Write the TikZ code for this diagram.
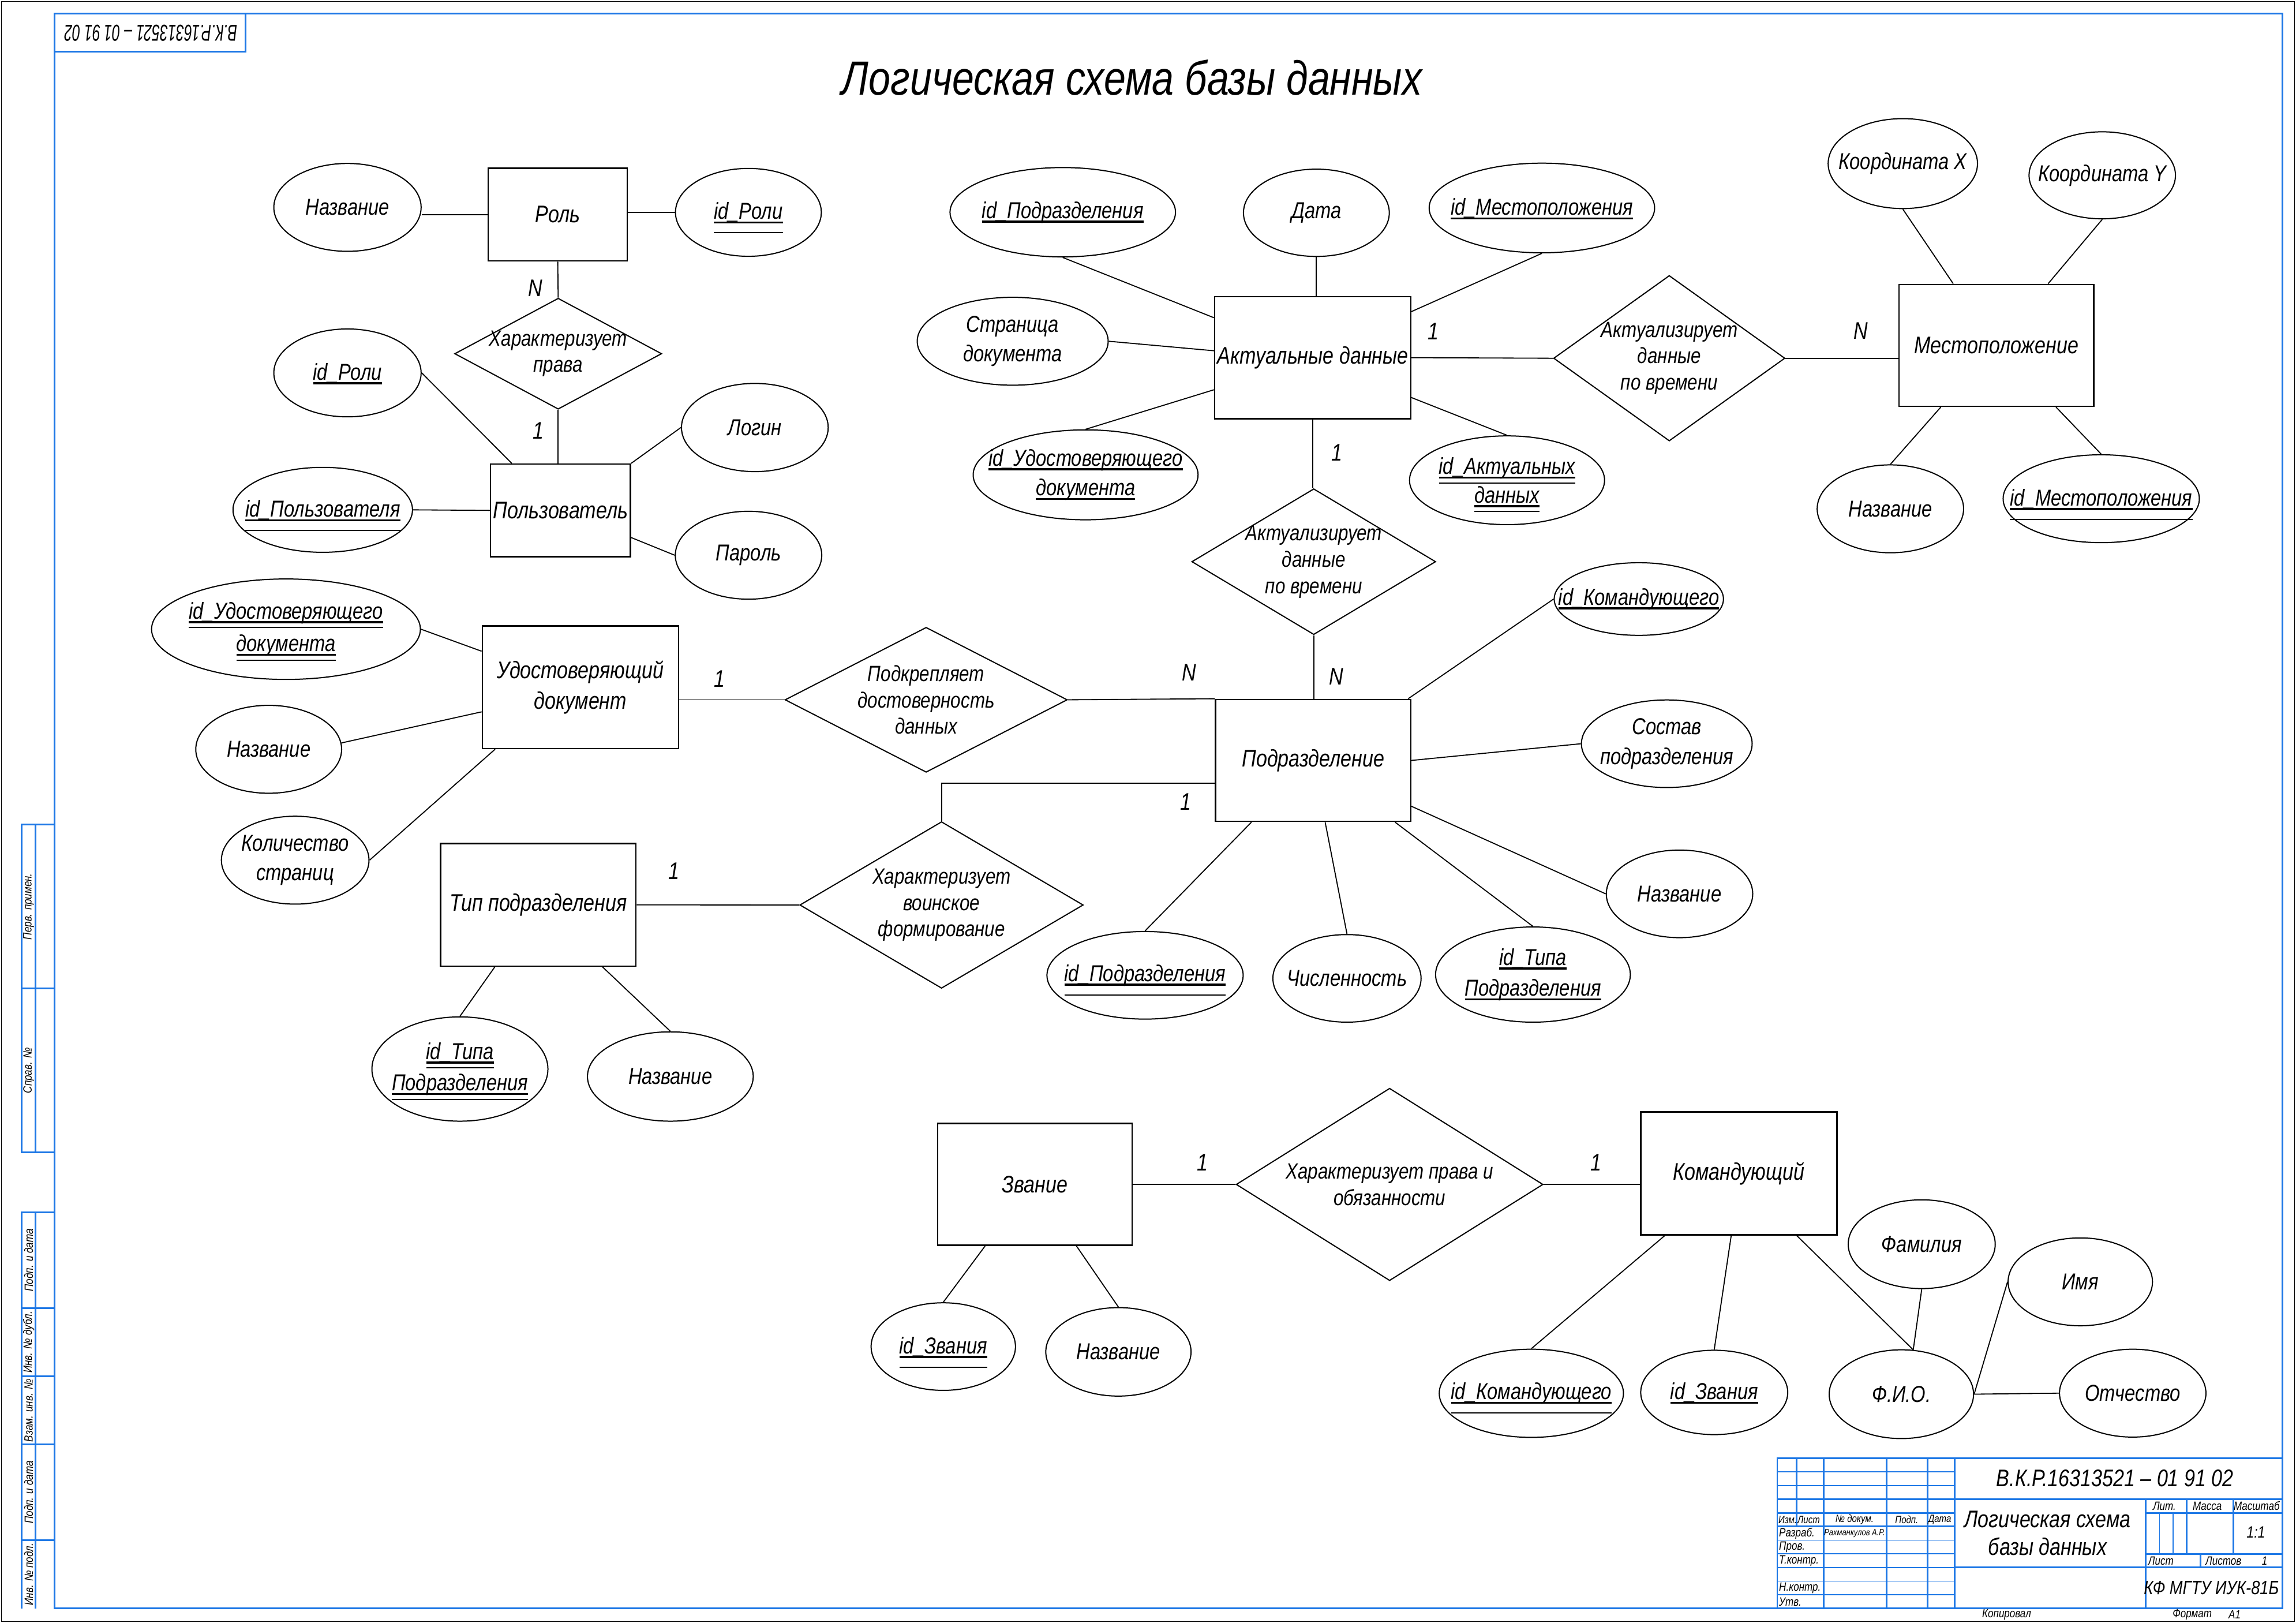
\documentclass[tikz,border=0pt]{standalone}
\usepackage{fontspec}
\usepackage{graphicx}
\usetikzlibrary{shapes.geometric}
\newfontfamily\gostfam{Liberation Sans}[FakeStretch=0.82]
\newcommand\gf[2]{\gostfam\itshape\fontsize{#1}{#2}\selectfont}
\newsavebox\ulbox
\newcommand\kul[1]{\sbox\ulbox{#1}\leavevmode\rlap{\smash{\vrule width\wd\ulbox height -2.5pt depth 4.5pt}}\usebox\ulbox}
\newcommand\kdul[2][9pt]{\sbox\ulbox{#2}\leavevmode\rlap{\smash{\vrule width\wd\ulbox height -2.5pt depth 4.5pt}}\rlap{\smash{\vrule width\wd\ulbox height \dimexpr-4.5pt-#1\relax depth \dimexpr5.7pt+#1\relax}}\usebox\ulbox}
\definecolor{frameblue}{RGB}{30,120,230}
\newcommand\attnode[6][]{\node[attshape={#4}{#5}] (#2) at (#3) {}; \node[atxt,#1] (#2t) at (#2) {#6};}
\newcommand\relnode[6][]{\node[relshape={#4}{#5}] (#2) at (#3) {}; \node[rtxt,#1] (#2t) at (#2) {#6};}
\begin{document}
\begin{tikzpicture}[x=0.53635mm, y=-0.53635mm,
  ent/.style 2 args={draw, rectangle, line width=1.5pt, minimum width={#1*0.53635mm}, minimum height={#2*0.53635mm}, inner sep=0pt, align=center, font={\gf{25}{32}}},
  attshape/.style 2 args={draw, ellipse, line width=1.2pt, minimum width={2*#1*0.53635mm}, minimum height={2*#2*0.53635mm}, inner sep=0pt},
  relshape/.style 2 args={draw, diamond, line width=1.2pt, minimum width={2*#1*0.53635mm}, minimum height={2*#2*0.53635mm}, inner sep=0pt},
  atxt/.style={inner sep=0pt, align=center, font={\gf{24}{31}}},
  rtxt/.style={inner sep=0pt, align=center, font={\gf{23}{27.5}}},
  card/.style={inner sep=0pt, font={\gf{25}{30}}},
  conn/.style={line width=1.1pt},
  bthick/.style={draw=frameblue, line width=1.7pt},
  bthin/.style={draw=frameblue, line width=0.9pt},
  tbs/.style={inner sep=0pt, font={\gf{11}{13}}},
  tbm/.style={inner sep=0pt, font={\gf{12.5}{15}}},
]
\useasboundingbox (0mm,0mm) rectangle (841mm,-594.34mm);

% ---------------- frame and title block (mm) ----------------
\begin{scope}[x=1mm, y=-1mm]
\draw[line width=0.8pt] (0.5,0.5) rectangle (840.5,593.8);
\draw[bthick] (20,5) rectangle (836,589);
% top-left stamp
\draw[bthick] (20,19) -| (90,5);
\node[rotate=180, inner sep=0pt, font={\gf{24}{28}}] (stamp) at (55.3,12.2) {\scalebox{0.76}[1]{В.К.Р.16313521 – 01 91 02}};
% left strip
\draw[bthick] (20,302) -| (8,422) -- (20,422);
\draw[bthick] (13,302) -- (13,422);
\draw[bthick] (8,362) -- (20,362);
\draw[bthick] (20,444) -| (8,589);
\draw[bthick] (13,444) -- (13,589);
\foreach \yy in {479,504,529,564} \draw[bthick] (8,\yy) -- (20,\yy);
\node[tbm, rotate=90] (s1) at (10.5,332) {Перв. примен.};
\node[tbm, rotate=90] (s2) at (10.5,392) {Справ. №};
\node[tbm, rotate=90] (s3) at (10.5,461.5) {Подп. и дата};
\node[tbm, rotate=90] (s4) at (10.5,491.5) {Инв. № дубл.};
\node[tbm, rotate=90] (s5) at (10.5,516.5) {Взам. инв. №};
\node[tbm, rotate=90] (s6) at (10.5,546.5) {Подп. и дата};
\node[tbm, rotate=90] (s7) at (10.5,576.5) {Инв. № подл.};
% title block
\draw[bthick] (651,589) |- (836,534);
\draw[bthick] (658,534) -- (658,559);
\foreach \xx in {668,691,706,716} \draw[bthick] (\xx,534) -- (\xx,589);
\foreach \yy in {539,544,564,569,574,579,584} \draw[bthin] (651,\yy) -- (716,\yy);
\draw[bthick] (651,549) -- (836,549);
\draw[bthick] (651,554) -- (716,554);
\draw[bthick] (651,559) -- (716,559);
\draw[bthick] (716,574) -- (836,574);
\draw[bthick] (786,549) -- (786,589);
\draw[bthick] (786,554) -- (836,554);
\draw[bthick] (786,569) -- (836,569);
\draw[bthick] (801,549) -- (801,569);
\draw[bthick] (818,549) -- (818,569);
\draw[bthin] (791,554) -- (791,569);
\draw[bthin] (796,554) -- (796,569);
\draw[bthick] (806,569) -- (806,574);
\node[tbs] (h1) at (654.8,556.5) {Изм.};
\node[tbs] (h2) at (662.5,556.5) {Лист};
\node[tbs] (h3) at (679.3,556.5) {№ докум.};
\node[tbs] (h4) at (698.4,556.5) {Подп.};
\node[tbs] (h5) at (710.5,556.5) {Дата};
\node[tbm, anchor=west] (l1) at (651.6,561.6) {Разраб.};
\node[inner sep=0pt, font={\gf{9.5}{11}}] (l1n) at (679.3,561.6) {Рахманкулов А.Р.};
\node[tbm, anchor=west] (l2) at (651.6,566.6) {Пров.};
\node[tbm, anchor=west] (l3) at (651.6,571.6) {Т.контр.};
\node[tbm, anchor=west] (l4) at (651.6,581.6) {Н.контр.};
\node[tbm, anchor=west] (l5) at (651.6,586.6) {Утв.};
\node[inner sep=0pt, font={\gf{25}{30}}] (docnum) at (774.7,541.4) {В.К.Р.16313521 – 01 91 02};
\node[inner sep=0pt, align=center, font={\gf{25}{29}}] (doctitle) at (750,561.5) {Логическая схема\\базы данных};
\node[tbm] (lit) at (792.8,551.5) {Лит.};
\node[tbm] (mass) at (808.5,551.5) {Масса};
\node[tbm] (scale) at (826.6,551.5) {Масштаб};
\node[inner sep=0pt, font={\gf{17}{20}}] (scv) at (826.3,561.2) {1:1};
\node[tbm] (list) at (791.5,571.6) {Лист};
\node[tbm] (lists) at (814.4,571.6) {Листов};
\node[tbm] (listsv) at (829.5,571.6) {1};
\node[inner sep=0pt, font={\gf{20}{24}}] (org) at (810,581.4) {КФ МГТУ ИУК-81Б};
\node[tbm] (kop) at (735,591.3) {Копировал};
\node[tbm] (fmt) at (803,591.3) {Формат};
\node[tbm] (fmtv) at (818.5,591.3) {А1};
\end{scope}

% ---------------- title ----------------
\node[inner sep=0pt, font={\gf{50}{60}}] (title) at (773,53) {Логическая схема базы данных};

% ---------------- entities ----------------
\node[ent={94.9}{63.3}] (rol) at (380.9,146.5) {Роль};
\node[ent={95.5}{63.3}] (usr) at (382.8,348.5) {Пользователь};
\node[ent={134}{83.7}] (udo) at (396.4,469.2) {Удостоверяющий\\документ};
\node[ent={133.5}{83.7}] (tip) at (367.6,617.8) {Тип подразделения};
\node[ent={133.9}{83.3}] (akt) at (896.5,244.2) {Актуальные данные};
\node[ent={133.1}{83.2}] (mes) at (1363.4,235.8) {Местоположение};
\node[ent={133.3}{83.3}] (pod) at (896.8,519.2) {Подразделение};
\node[ent={132.9}{83.2}] (zva) at (706.8,808.7) {Звание};
\node[ent={134}{83.9}] (kom) at (1187.5,801.2) {Командующий};

% ---------------- relationships ----------------
\relnode{r1}{381.2,241.5}{70.7}{37.9}{Характеризует\\права}
\relnode{r2}{1140,244.6}{79}{56.5}{Актуализирует\\данные\\по времени}
\relnode{r3}{897.2,383.5}{83.3}{49.8}{Актуализирует\\данные\\по времени}
\relnode{r4}{632.5,477.8}{96.4}{49.5}{Подкрепляет\\достоверность\\данных}
\relnode{r5}{643,617.9}{96.8}{56.9}{Характеризует\\воинское\\формирование}
\relnode{r6}{949,808.7}{104.8}{65.7}{Характеризует права и\\обязанности}

% ---------------- attributes ----------------
\attnode{aRolName}{237.3,141.6}{50.3}{30}{Название}
\attnode{aRolId}{511.1,145}{49.8}{30}{\kdul{id\_Роли}}
\attnode{aUsrIdr}{237.3,254.6}{50.3}{30}{\kul{id\_Роли}}
\attnode{aUsrId}{220.4,348.1}{61.3}{29}{\kdul{id\_Пользователя}}
\attnode{aUsrLog}{515.5,291.9}{50.1}{30.1}{Логин}
\attnode{aUsrPwd}{511.2,379.1}{50}{30}{Пароль}
\attnode[font={\gf{24}{34}}]{aUdoId}{195.3,429.6}{91.8}{34.3}{\kdul[4pt]{id\_Удостоверяющего}\\\kdul[4pt]{документа}}
\attnode{aUdoName}{183.5,511.6}{49.8}{30}{Название}
\attnode{aUdoCnt}{201.6,587.3}{50.4}{30}{Количество\\страниц}
\attnode[font={\gf{24}{33}}]{aTipId}{314.1,729.9}{60.1}{35.6}{\kdul[4pt]{id\_Типа}\\\kdul[4pt]{Подразделения}}
\attnode{aTipName}{457.8,735}{56.6}{30.5}{Название}
\attnode{aAktIdp}{725.8,144.9}{77}{30.5}{\kul{id\_Подразделения}}
\attnode{aAktDate}{899,145.3}{49.8}{29.8}{Дата}
\attnode{aAktIdm}{1053,142}{77}{30.6}{\kul{id\_Местоположения}}
\attnode{aAktPage}{691.6,233}{65.2}{30}{Страница\\документа}
\attnode{aAktIdu}{741.4,324.2}{76.8}{30.7}{\kul{id\_Удостоверяющего}\\\kul{документа}}
\attnode[font={\gf{24}{30}}]{aAktIda}{1029.2,327.9}{66.6}{30.3}{\kdul[4pt]{id\_Актуальных}\\\kdul[4pt]{данных}}
\attnode{aMesX}{1299.5,111.7}{51}{30.7}{Координата X}
\attnode{aMesY}{1435.7,119.7}{50}{29.7}{Координата Y}
\attnode{aMesName}{1291,347.4}{50}{30}{Название}
\attnode{aMesId}{1435,340.5}{67}{30}{\kdul{id\_Местоположения}}
\attnode{aPodIdk}{1119.2,409}{57.8}{24.8}{\kul{id\_Командующего}}
\attnode{aPodSost}{1138.3,507.8}{58.3}{29.9}{Состав\\подразделения}
\attnode{aPodName}{1147,610.3}{50}{29.9}{Название}
\attnode{aPodIdp}{782,665.9}{67}{29.9}{\kdul{id\_Подразделения}}
\attnode{aPodCnt}{919.9,668}{50.6}{29.9}{Численность}
\attnode[font={\gf{24}{32}}]{aPodIdt}{1046.9,665.4}{66.5}{32.5}{\kul{id\_Типа}\\\kul{Подразделения}}
\attnode{aZvaId}{644.2,919.4}{49.3}{29.9}{\kdul{id\_Звания}}
\attnode{aZvaName}{763.8,923}{49.6}{30.2}{Название}
\attnode{aKomId}{1045.8,951.3}{62.9}{30.1}{\kdul{id\_Командующего}}
\attnode{aKomIdz}{1170.7,950.7}{50.2}{28.8}{\kul{id\_Звания}}
\attnode{aFio}{1298.5,951.9}{49.3}{30.3}{Ф.И.О.}
\attnode{aFam}{1312.4,849.5}{50.2}{30.3}{Фамилия}
\attnode{aImya}{1420.7,875.2}{49.3}{30}{Имя}
\attnode{aOtch}{1456.5,951.2}{50}{30}{Отчество}

% ---------------- relationship connectors ----------------
\draw[conn] (rol.south) -- (r1.north);
\draw[conn] (r1.south) -- (r1.south |- usr.north);
\draw[conn] (r4.west -| udo.east) -- (r4.west);
\draw[conn] (r4.east) -- (pod.north west);
\draw[conn] (tip.east) -- (r5.west);
\draw[conn] (r5.north) |- (pod.193);
\draw[conn] (akt.east) -- (r2.west);
\draw[conn] (r2.east) -- (r2.east -| mes.west);
\draw[conn] (akt.south) -- (akt.south |- r3.north);
\draw[conn] (r3.south) -- (r3.south |- pod.north);
\draw[conn] (zva.east) -- (r6.west);
\draw[conn] (r6.east) -- (r6.east -| kom.west);

% cardinalities
\node[card] (c1) at (365.5,196.9) {N};
\node[card] (c2) at (367.7,294.2) {1};
\node[card] (c3) at (491.5,463.5) {1};
\node[card] (c4) at (812.1,459.1) {N};
\node[card] (c5) at (460.4,594.7) {1};
\node[card] (c6) at (809.8,547.3) {1};
\node[card] (c7) at (978.9,226.3) {1};
\node[card] (c8) at (1270.7,225.7) {N};
\node[card] (c9) at (912.9,308.9) {1};
\node[card] (c10) at (912.4,461.9) {N};
\node[card] (c11) at (821.1,793.6) {1};
\node[card] (c12) at (1089.8,793.6) {1};

% ---------------- attribute connectors ----------------
\draw[conn] (rol.west) -- (rol.west -| aRolName.east);
\draw[conn] (rol.east |- aRolId.west) -- (aRolId.west);
\draw[conn] (aUsrIdr.east) -- (usr.136);
\draw[conn] (aUsrId.east) -- (usr.west);
\draw[conn] (usr.north east) -- (aUsrLog.west);
\draw[conn] (usr.339) -- (aUsrPwd.west);
\draw[conn] (aUdoId.east) -- (udo.160);
\draw[conn] (aUdoName.5) -- (udo.194);
\draw[conn] (aUdoCnt.east) -- (udo.216);
\draw[conn] (aTipId.north) -- (tip.235);
\draw[conn] (aTipName.north) -- (tip.316);
\draw[conn] (aAktIdp.south) -- (akt.158);
\draw[conn] (aAktDate.south) -- (aAktDate.south |- akt.north);
\draw[conn] (aAktIdm.south) -- (akt.25);
\draw[conn] (aAktPage.east) -- (akt.176);
\draw[conn] (aAktIdu.north) -- (akt.198);
\draw[conn] (aAktIda.north) -- (akt.338);
\draw[conn] (aMesX.south) -- (mes.125);
\draw[conn] (aMesY.south) -- (mes.50);
\draw[conn] (aMesName.north) -- (mes.228);
\draw[conn] (aMesId.north) -- (mes.314);
\draw[conn] (aPodIdk.west) -- (pod.33);
\draw[conn] (aPodSost.west) -- (pod.east);
\draw[conn] (aPodName.west) -- (pod.335);
\draw[conn] (aPodIdp.north) -- (pod.225);
\draw[conn] (aPodCnt.north) -- (pod.281);
\draw[conn] (aPodIdt.north) -- (pod.323);
\draw[conn] (aZvaId.north) -- (zva.231);
\draw[conn] (aZvaName.north) -- (zva.304);
\draw[conn] (aKomId.north) -- (kom.220);
\draw[conn] (aKomIdz.north) -- (kom.263);
\draw[conn] (aFio.75) -- (kom.313);
\draw[conn] (aFam.south) -- (aFio.75);
\draw[conn] (aImya.west) -- (aFio.east);
\draw[conn] (aFio.east) -- (aOtch.west);
\end{tikzpicture}
\end{document}
